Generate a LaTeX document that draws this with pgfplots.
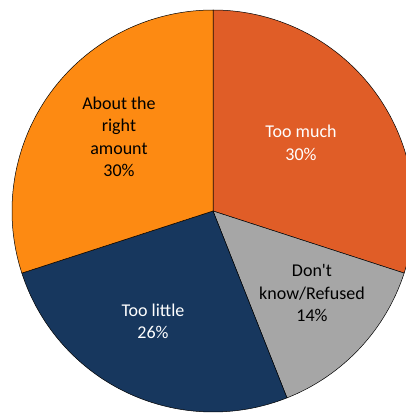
\documentclass[border=0pt]{standalone}
\usepackage{pgfplots}
\usepackage{pgfplotstable}
\pgfplotsset{compat=1.18}
\usepackage{fontspec}
\setmainfont{Carlito}
\newfontfamily\labfont{Carlito}
\definecolor{cMuch}{HTML}{E05D27}
\definecolor{cDK}{HTML}{A6A6A6}
\definecolor{cLittle}{HTML}{17375E}
\definecolor{cRight}{HTML}{FD8A12}
\pgfplotstableread{
label value
TooMuch 30
DontKnow 14
TooLittle 26
AboutRight 30
}\piedata
\pgfplotstablegetelem{0}{value}\of\piedata \let\vA\pgfplotsretval
\pgfplotstablegetelem{1}{value}\of\piedata \let\vB\pgfplotsretval
\pgfplotstablegetelem{2}{value}\of\piedata \let\vC\pgfplotsretval
\pgfplotstablegetelem{3}{value}\of\piedata \let\vD\pgfplotsretval
\pgfmathsetmacro\aO{90}
\pgfmathsetmacro\aA{\aO-3.6*\vA}
\pgfmathsetmacro\aB{\aA-3.6*\vB}
\pgfmathsetmacro\aC{\aB-3.6*\vC}
\pgfmathsetmacro\aD{\aC-3.6*\vD}
\begin{document}
\begin{tikzpicture}
\path[use as bounding box,clip] (0,0) rectangle (406bp,414bp);
\begin{axis}[at={(0,0)},anchor=south west,
  x=201bp,y=201bp,
  xmin=-1.0597,xmax=0.9602,ymin=-1.00995,ymax=1.0498,
  hide axis, clip=false]
\addplot[draw=none] coordinates {(0,0)};
\tikzset{sl/.style={draw=black,line width=0.5pt,line join=round}}
\filldraw[sl,fill=cMuch] (axis cs:0,0) -- ++(\aO:201bp) arc[start angle=\aO,end angle=\aA,radius=201bp] -- cycle;
\filldraw[sl,fill=cDK] (axis cs:0,0) -- ++(\aA:201bp) arc[start angle=\aA,end angle=\aB,radius=201bp] -- cycle;
\filldraw[sl,fill=cLittle] (axis cs:0,0) -- ++(\aB:201bp) arc[start angle=\aB,end angle=\aC,radius=201bp] -- cycle;
\filldraw[sl,fill=cRight] (axis cs:0,0) -- ++(\aC:201bp) arc[start angle=\aC,end angle=\aD,radius=201bp] -- cycle;
\tikzset{lab/.style={align=center,inner sep=0pt,font=\labfont\fontsize{18bp}{22.5bp}\selectfont}}
\node[lab,text=black] at (axis cs:-0.468,0.368) {About the\\right\\amount\\30\%};
\node[lab,text=white] at (axis cs:0.438,0.338) {Too much\\30\%};
\node[lab,text=black] at (axis cs:0.4925,-0.408) {Don't\\know/Refused\\14\%};
\node[lab,text=white] at (axis cs:-0.2985,-0.550) {Too little\\26\%};
\end{axis}
\end{tikzpicture}
\end{document}
